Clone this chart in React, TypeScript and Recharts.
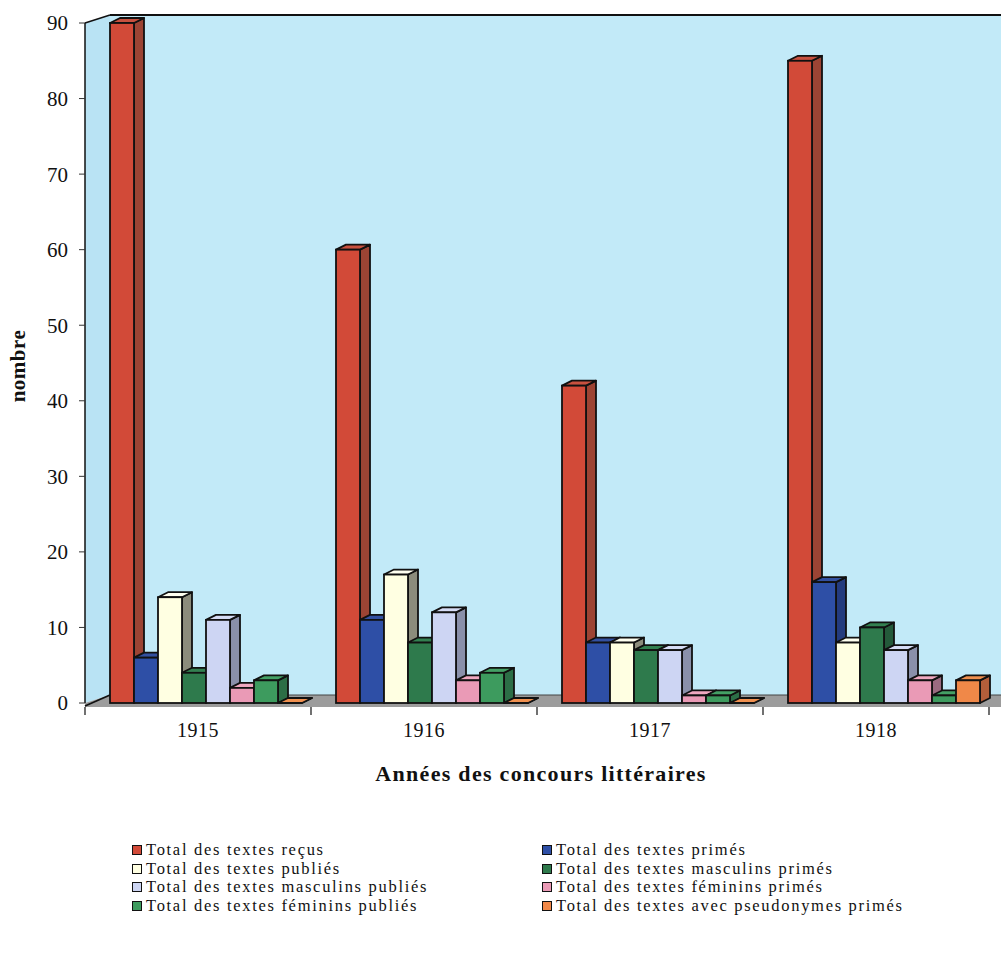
import React from 'react';
import { BarChart, Bar, XAxis, YAxis, ReferenceArea } from 'recharts';

// Concours littéraires, 1915–1918
const years = ['1915', '1916', '1917', '1918'];
const textesRecus = [90, 60, 42, 85];
const textesPrimes = [6, 11, 8, 16];
const textesPublies = [14, 17, 8, 8];
const masculinsPrimes = [4, 8, 7, 10];
const masculinsPublies = [11, 12, 7, 7];
const femininsPrimes = [2, 3, 1, 3];
const femininsPublies = [3, 4, 1, 1];
const pseudonymesPrimes = [0, 0, 0, 3];
const yTicks = [0, 10, 20, 30, 40, 50, 60, 70, 80, 90];

const seriesList = [
  { key: 'recus', name: 'Total des textes reçus', values: textesRecus, front: '#D24A38', top: '#C8513F', side: '#9C4434' },
  { key: 'primes', name: 'Total des textes primés', values: textesPrimes, front: '#2E4FA6', top: '#3350A0', side: '#243B7E' },
  { key: 'publies', name: 'Total des textes publiés', values: textesPublies, front: '#FFFFE2', top: '#FFFFF0', side: '#8C8C7C' },
  { key: 'mascPrimes', name: 'Total des textes masculins primés', values: masculinsPrimes, front: '#2E7A4C', top: '#338050', side: '#245A3A' },
  { key: 'mascPublies', name: 'Total des textes masculins publiés', values: masculinsPublies, front: '#CDD5F3', top: '#D6DCF5', side: '#8A90AA' },
  { key: 'femPrimes', name: 'Total des textes féminins primés', values: femininsPrimes, front: '#EA9AB6', top: '#EFA8C0', side: '#9A6A80' },
  { key: 'femPublies', name: 'Total des textes féminins publiés', values: femininsPublies, front: '#3D9B5E', top: '#44A065', side: '#2C6E46' },
  { key: 'pseudo', name: 'Total des textes avec pseudonymes primés', values: pseudonymesPrimes, front: '#F08848', top: '#F0904F', side: '#B45E3A' },
];

const data = years.map((year, i) => {
  const row: Record<string, string | number> = { year };
  seriesList.forEach((s) => {
    row[s.key] = s.values[i];
  });
  return row;
});

const SERIF = '"Liberation Serif", "Times New Roman", serif';
const WALL = '#C2EAF8';
const WALL_LEFT = '#B9E3F4';
const FLOOR = '#9C9C9C';
const DEPTH_X = 10;
const DEPTH_Y = 5;
const SHIFT = 8;

// Extruded bar: front face, top face and darker right side
const makeBar3D = (s: { front: string; top: string; side: string }) => (props: any) => {
  const { x, y, width, height } = props;
  if (x == null || y == null) return null;
  const fx = x + SHIFT;
  const h = Math.max(0, height);
  const bottom = y + h;
  const topPts = `${fx},${y} ${fx + DEPTH_X},${y - DEPTH_Y} ${fx + width + DEPTH_X},${y - DEPTH_Y} ${fx + width},${y}`;
  const sidePts = `${fx + width},${y} ${fx + width + DEPTH_X},${y - DEPTH_Y} ${fx + width + DEPTH_X},${bottom - DEPTH_Y} ${fx + width},${bottom}`;
  return (
    <g>
      <polygon points={sidePts} fill={s.side} stroke="#111" strokeWidth={1.8} strokeLinejoin="round" />
      <polygon points={topPts} fill={s.top} stroke="#111" strokeWidth={1.8} strokeLinejoin="round" />
      {h > 0 && <rect x={fx} y={y} width={width} height={h} fill={s.front} stroke="#111" strokeWidth={1.8} />}
    </g>
  );
};

// Back wall, left wall, floor and category boundary ticks
const Walls = (props: any) => {
  const { x, y, width, height } = props;
  if (x == null) return null;
  const dx = 25;
  const dy = 8;
  const bottom = y + height;
  const right = x + width;
  const far = right + 60;
  const ticks = [0, 1, 2, 3, 4].map((i) => x + (width * i) / 4);
  return (
    <g>
      <rect x={x + dx} y={y - dy} width={far - x - dx} height={height} fill={WALL} />
      <polygon
        points={`${x},${y} ${x + dx},${y - dy} ${x + dx},${bottom - dy} ${x},${bottom}`}
        fill={WALL_LEFT}
      />
      <polygon
        points={`${x},${bottom} ${x + dx},${bottom - dy} ${far},${bottom - dy} ${far},${bottom + 4} ${x},${bottom + 4}`}
        fill={FLOOR}
      />
      <line x1={x + dx} y1={y - dy} x2={far} y2={y - dy} stroke="#111" strokeWidth={2} />
      <line x1={x} y1={y} x2={x + dx} y2={y - dy} stroke="#111" strokeWidth={1.5} />
      <line x1={x} y1={bottom + 3} x2={x + dx} y2={bottom - dy} stroke="#111" strokeWidth={1.8} />
      <line x1={x + dx} y1={bottom - dy} x2={far} y2={bottom - dy} stroke="#444" strokeWidth={1} />
      {ticks.map((tx, i) => (
        <line key={i} x1={tx} y1={bottom + 4} x2={tx} y2={bottom + 12} stroke="#111" strokeWidth={1.2} />
      ))}
    </g>
  );
};

const YLabel = (props: any) => {
  const vb = props.viewBox || {};
  const cy = (vb.y ?? 23) + (vb.height ?? 680) / 2 + 3;
  const cx = 25;
  return (
    <text
      x={cx}
      y={cy}
      transform={`rotate(-90, ${cx}, ${cy})`}
      textAnchor="middle"
      fontFamily={SERIF}
      fontWeight="bold"
      fontSize={21}
      letterSpacing={0.5}
      fill="#111"
    >
      nombre
    </text>
  );
};

const XLabel = (props: any) => {
  const vb = props.viewBox || {};
  const cx = (vb.x ?? 85) + (vb.width ?? 904) / 2 + 4;
  const cy = (vb.y ?? 703) + 78;
  return (
    <text
      x={cx}
      y={cy}
      textAnchor="middle"
      fontFamily={SERIF}
      fontWeight="bold"
      fontSize={22}
      letterSpacing={1.3}
      fill="#111"
    >
      Années des concours littéraires
    </text>
  );
};

const LegendBlock = () => (
  <div
    style={{
      position: 'absolute',
      left: 132,
      top: 841,
      display: 'grid',
      gridTemplateColumns: '410px 450px',
      rowGap: 0,
      fontFamily: SERIF,
      fontSize: 16.5,
      letterSpacing: '1.7px',
      color: '#111',
      lineHeight: '18.6px',
    }}
  >
    {seriesList.map((s) => (
      <div key={s.key} style={{ display: 'flex', alignItems: 'center', whiteSpace: 'nowrap', height: 18.6 }}>
        <span
          style={{
            display: 'inline-block',
            width: 8,
            height: 8,
            background: s.front,
            border: '1.5px solid #111',
            marginRight: 4,
          }}
        />
        <span>{s.name}</span>
      </div>
    ))}
  </div>
);

export default function App() {
  return (
    <div style={{ position: 'absolute', left: 0, top: 0, width: 1001, height: 962, background: '#fff' }}>
      <BarChart
        width={1001}
        height={962}
        data={data}
        margin={{ top: 23, right: 12, bottom: 0, left: 0 }}
        barGap={0}
        barSize={24}
      >
        <ReferenceArea y1={0} y2={90} ifOverflow="visible" shape={<Walls />} />
        <XAxis
          dataKey="year"
          height={259}
          axisLine={false}
          tickLine={false}
          tickSize={0}
          tickMargin={20}
          tick={{ fontFamily: SERIF, fontSize: 20, fill: '#111', letterSpacing: 0.5 }}
          label={<XLabel />}
        />
        <YAxis
          width={85}
          domain={[0, 90]}
          ticks={yTicks}
          interval={0}
          axisLine={{ stroke: '#111', strokeWidth: 1.5 }}
          tickLine={{ stroke: '#333' }}
          tickSize={6}
          tickMargin={11}
          tick={{ fontFamily: SERIF, fontSize: 21, fill: '#111' }}
          label={<YLabel />}
        />
        {seriesList.map((s) => (
          <Bar
            key={s.key}
            dataKey={s.key}
            name={s.name}
            fill={s.front}
            isAnimationActive={false}
            shape={makeBar3D(s)}
          />
        ))}
      </BarChart>
      <LegendBlock />
    </div>
  );
}
